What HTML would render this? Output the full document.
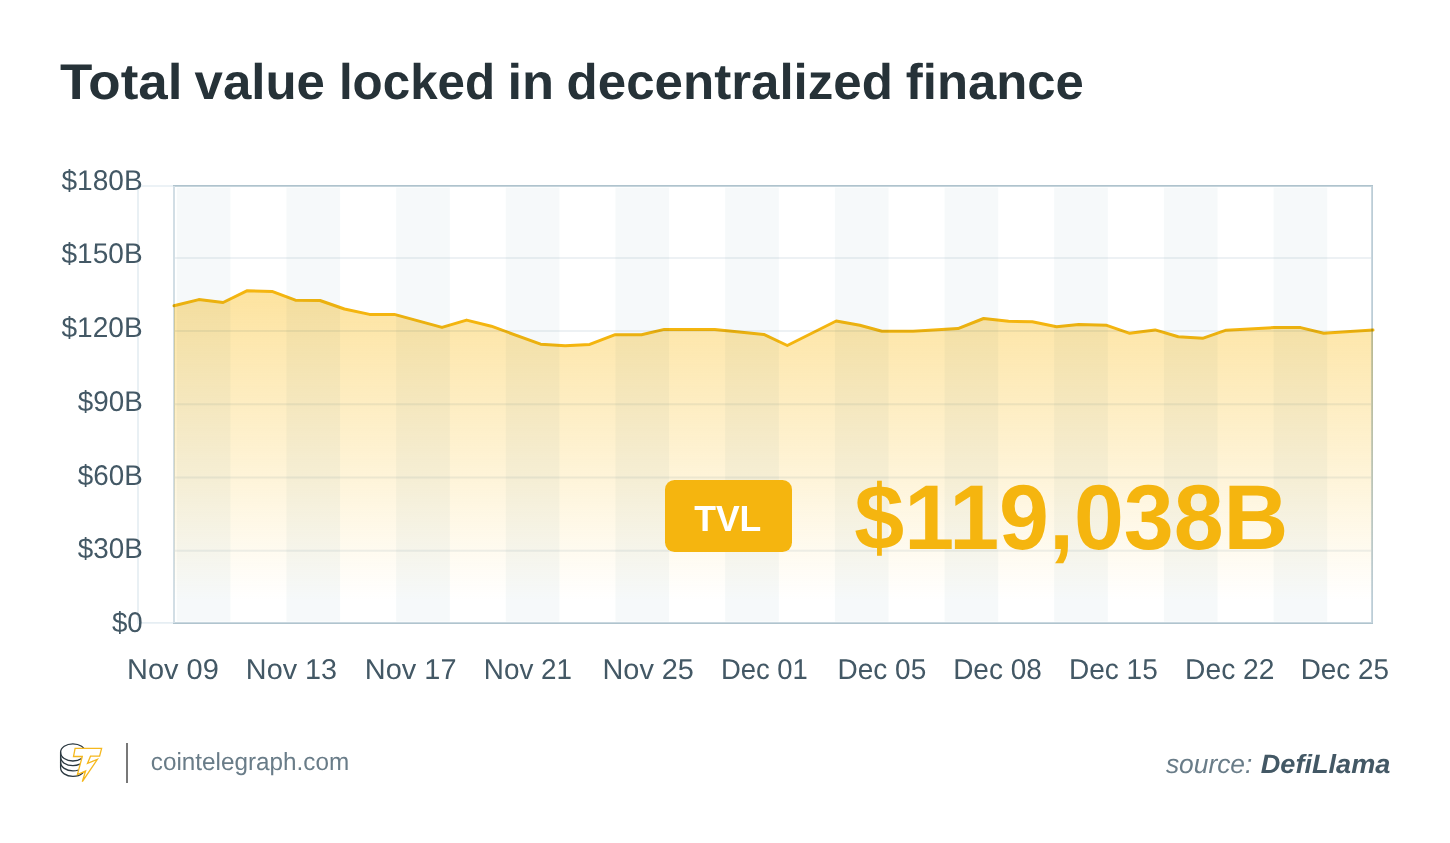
<!DOCTYPE html>
<html lang="en"><head><meta charset="utf-8"><title>Total value locked in decentralized finance</title>
<style>
html,body{margin:0;padding:0;background:#fff}
body{width:1450px;height:843px;overflow:hidden;font-family:"Liberation Sans",sans-serif}
svg{display:block}
svg text{font-family:"Liberation Sans",sans-serif;text-rendering:geometricPrecision}
.title{font-weight:700;fill:#263238}
.ax{fill:#435865}
.tvl{font-weight:700;fill:#fff}
.big{font-weight:700;fill:#f5b50f}
.ct{fill:#697c88}
.src{font-style:italic;fill:#697c88}
.dl{font-style:italic;font-weight:700;fill:#435865}
</style></head><body>
<svg width="1450" height="843" viewBox="0 0 1450 843">
<defs>
<linearGradient id="fillg" x1="0" y1="290" x2="0" y2="600" gradientUnits="userSpaceOnUse">
<stop offset="0" stop-color="#fbcc50" stop-opacity="0.55"/>
<stop offset="1" stop-color="#fbcc50" stop-opacity="0"/>
</linearGradient>
</defs>
<rect width="1450" height="843" fill="#fff"/>
<g fill="none" stroke="#e6eef3" stroke-width="1.7"><path d="M173 622.8H138V186H173"/></g>
<g>
<rect x="173" y="185" width="2" height="439" fill="#d2dee5"/>
<rect x="1371" y="185" width="1" height="439" fill="#cad8e0"/><rect x="1372" y="185" width="1" height="439" fill="#bccdd6"/>
<rect x="173" y="185" width="1200" height="1" fill="#afc3cd"/><rect x="175" y="186" width="1197" height="1" fill="#c5d4dc"/>
<rect x="175" y="622" width="1197" height="1" fill="#c9d7df"/><rect x="173" y="623" width="1200" height="1" fill="#b0c4ce"/>
</g>
<g fill="#f6f9fa"><rect x="176.8" y="187.6" width="53.6" height="434"/><rect x="286.5" y="187.6" width="53.6" height="434"/><rect x="396.2" y="187.6" width="53.6" height="434"/><rect x="505.8" y="187.6" width="53.6" height="434"/><rect x="615.5" y="187.6" width="53.6" height="434"/><rect x="725.2" y="187.6" width="53.6" height="434"/><rect x="834.9" y="187.6" width="53.6" height="434"/><rect x="944.6" y="187.6" width="53.6" height="434"/><rect x="1054.2" y="187.6" width="53.6" height="434"/><rect x="1163.9" y="187.6" width="53.6" height="434"/><rect x="1273.6" y="187.6" width="53.6" height="434"/></g>
<g stroke="#8caab9" stroke-opacity="0.16" stroke-width="2"><line x1="175" x2="1371" y1="258" y2="258"/><line x1="175" x2="1371" y1="331.1" y2="331.1"/><line x1="175" x2="1371" y1="404.3" y2="404.3"/><line x1="175" x2="1371" y1="477.4" y2="477.4"/><line x1="175" x2="1371" y1="550.7" y2="550.7"/></g>
<g style="mix-blend-mode:multiply">
<path d="M174.0 305.8 L198.8 299.6 L223.1 302.5 L246.8 290.8 L272.0 291.4 L295.4 300.2 L320.0 300.5 L344.4 309.0 L369.6 314.4 L394.3 314.4 L442.0 327.4 L466.6 320.1 L491.3 326.2 L540.6 344.2 L565.2 345.8 L589.7 344.4 L615.2 334.7 L641.5 334.7 L664.3 329.4 L714.7 329.4 L763.8 334.4 L787.3 345.5 L836.2 321.0 L859.8 325.2 L881.9 331.3 L913.0 331.3 L958.0 328.6 L983.6 318.5 L1008.6 321.2 L1032.3 321.8 L1056.6 326.8 L1078.7 324.6 L1106.7 325.3 L1129.7 333.3 L1155.1 329.9 L1178.3 336.8 L1202.6 338.3 L1226.2 330.2 L1274.1 327.6 L1300.6 327.6 L1323.7 333.2 L1373.0 330.1 L1373.0 623 L174.0 623 Z" fill="url(#fillg)"/>
<path d="M174.0 305.8 L198.8 299.6 L223.1 302.5 L246.8 290.8 L272.0 291.4 L295.4 300.2 L320.0 300.5 L344.4 309.0 L369.6 314.4 L394.3 314.4 L442.0 327.4 L466.6 320.1 L491.3 326.2 L540.6 344.2 L565.2 345.8 L589.7 344.4 L615.2 334.7 L641.5 334.7 L664.3 329.4 L714.7 329.4 L763.8 334.4 L787.3 345.5 L836.2 321.0 L859.8 325.2 L881.9 331.3 L913.0 331.3 L958.0 328.6 L983.6 318.5 L1008.6 321.2 L1032.3 321.8 L1056.6 326.8 L1078.7 324.6 L1106.7 325.3 L1129.7 333.3 L1155.1 329.9 L1178.3 336.8 L1202.6 338.3 L1226.2 330.2 L1274.1 327.6 L1300.6 327.6 L1323.7 333.2 L1373.0 330.1" fill="none" stroke="#f4b50f" stroke-width="3" stroke-linejoin="round" stroke-linecap="round"/>
</g>
<rect x="665" y="480" width="127" height="72" rx="9.5" fill="#f5b50f"/>
<text class="title" y="99.0" font-size="50.1"><tspan x="59.96" textLength="122.55" lengthAdjust="spacingAndGlyphs">Total</tspan> <tspan x="194.64" textLength="130.32" lengthAdjust="spacingAndGlyphs">value</tspan> <tspan x="338.91" textLength="156.18" lengthAdjust="spacingAndGlyphs">locked</tspan> <tspan x="507.42" textLength="46.64" lengthAdjust="spacingAndGlyphs">in</tspan> <tspan x="566.60" textLength="326.31" lengthAdjust="spacingAndGlyphs">decentralized</tspan> <tspan x="905.84" textLength="178.10" lengthAdjust="spacingAndGlyphs">finance</tspan></text>
<text class="ax" x="61.52" y="189.5" font-size="28.5" textLength="81.16" lengthAdjust="spacingAndGlyphs">$180B</text>
<text class="ax" x="61.52" y="263.3" font-size="28.5" textLength="81.16" lengthAdjust="spacingAndGlyphs">$150B</text>
<text class="ax" x="61.52" y="337.1" font-size="28.5" textLength="81.16" lengthAdjust="spacingAndGlyphs">$120B</text>
<text class="ax" x="77.80" y="410.8" font-size="28.5" textLength="64.93" lengthAdjust="spacingAndGlyphs">$90B</text>
<text class="ax" x="77.80" y="484.6" font-size="28.5" textLength="64.93" lengthAdjust="spacingAndGlyphs">$60B</text>
<text class="ax" x="77.80" y="558.4" font-size="28.5" textLength="64.93" lengthAdjust="spacingAndGlyphs">$30B</text>
<text class="ax" x="111.89" y="632.2" font-size="28.5" textLength="30.87" lengthAdjust="spacingAndGlyphs">$0</text>
<text class="ax" x="127.08" y="678.7" font-size="28.6" textLength="91.73" lengthAdjust="spacingAndGlyphs">Nov 09</text>
<text class="ax" x="245.83" y="678.7" font-size="28.6" textLength="91.27" lengthAdjust="spacingAndGlyphs">Nov 13</text>
<text class="ax" x="364.88" y="678.7" font-size="28.6" textLength="91.64" lengthAdjust="spacingAndGlyphs">Nov 17</text>
<text class="ax" x="483.84" y="678.7" font-size="28.6" textLength="88.21" lengthAdjust="spacingAndGlyphs">Nov 21</text>
<text class="ax" x="602.49" y="678.7" font-size="28.6" textLength="91.45" lengthAdjust="spacingAndGlyphs">Nov 25</text>
<text class="ax" x="720.93" y="678.7" font-size="28.6" textLength="86.97" lengthAdjust="spacingAndGlyphs">Dec 01</text>
<text class="ax" x="837.53" y="678.7" font-size="28.6" textLength="88.74" lengthAdjust="spacingAndGlyphs">Dec 05</text>
<text class="ax" x="953.17" y="678.7" font-size="28.6" textLength="88.63" lengthAdjust="spacingAndGlyphs">Dec 08</text>
<text class="ax" x="1068.97" y="678.7" font-size="28.6" textLength="88.83" lengthAdjust="spacingAndGlyphs">Dec 15</text>
<text class="ax" x="1185.12" y="678.7" font-size="28.6" textLength="89.40" lengthAdjust="spacingAndGlyphs">Dec 22</text>
<text class="ax" x="1300.74" y="678.7" font-size="28.6" textLength="88.32" lengthAdjust="spacingAndGlyphs">Dec 25</text>
<text class="tvl" x="694.18" y="530.8" font-size="36.5" textLength="67.17" lengthAdjust="spacingAndGlyphs">TVL</text>
<text class="big" x="854.35" y="549.3" font-size="92" textLength="434.04" lengthAdjust="spacingAndGlyphs">$119,038B</text>
<text class="ct" x="150.78" y="769.8" font-size="24.7" textLength="198.42" lengthAdjust="spacingAndGlyphs">cointelegraph.com</text>
<text class="src" x="1165.88" y="772.7" font-size="26.4" textLength="86.47" lengthAdjust="spacingAndGlyphs">source:</text>
<text class="dl" x="1260.79" y="772.7" font-size="26.4" textLength="129.55" lengthAdjust="spacingAndGlyphs">DefiLlama</text>

<g fill="none" stroke="#2b3840" stroke-width="1.3" stroke-linecap="round" transform="translate(0.4 0.2)">
<ellipse cx="72.5" cy="752.2" rx="12.3" ry="8.6"/>
<path d="M60.2 752.2V767.6c0 4.8 5.5 8.6 12.3 8.6 4 0 7.6-1.3 9.8-3.4"/>
<path d="M60.2 756.9c0 4.8 5.5 8.6 12.3 8.6 2.6 0 5-.6 7-1.5"/>
<path d="M60.2 762.1c0 4.8 5.5 8.6 12.3 8.6 2 0 3.900-.3 5.600-.9"/>
</g>
<path d="M75.100 748.400H101.600L99.600 756.200H90.500L87.500 763.400L97.300 759.500L82.300 781.700L85.600 770.900L77.400 774.500L82.300 756.500H73.500Z" fill="#fff" stroke="#f5b81e" stroke-width="1.3" stroke-linejoin="miter"/>
<rect x="126" y="743" width="2" height="40" fill="#787878"/>
</svg>
</body></html>
